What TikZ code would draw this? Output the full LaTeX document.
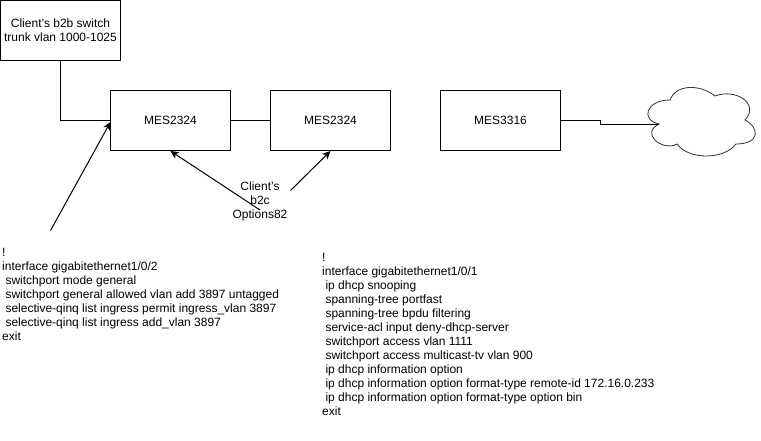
\documentclass[tikz,border=0pt]{standalone}
\usepackage{fontspec}
\setmainfont{Liberation Sans}
\usetikzlibrary{positioning,arrows.meta}
\tikzset{
	switchbox/.style={draw,line width=1pt,minimum width=120pt,minimum height=60pt,inner sep=0pt,font=\fontsize{12}{14}\selectfont,align=center},
	cfgtext/.style={anchor=north west,inner sep=0pt,align=left,font=\fontsize{12}{14}\selectfont},
	link/.style={line width=1pt},
	pointer/.style={line width=1pt,-{Stealth[length=8pt,width=7.5pt,inset=2pt]}}
}
\newcommand{\cfgind}{\hspace*{3.3pt}}
\begin{document}
\begin{tikzpicture}[x=1pt,y=-1pt]
		\useasboundingbox (0,0) rectangle (761,441);
		\node[switchbox] (b2b) at (60.5,30.5) {Client's b2b switch\\trunk vlan 1000-1025};
		\node[switchbox] (mesa) at (170.5,120.5) {MES2324};
		\node[switchbox] (mesb) at (330.5,120.5) {MES2324};
		\node[switchbox] (mesc) at (500.5,120.5) {MES3316};
		\draw[link] (b2b.south)|-(mesa.west);
		\draw[link] (mesa)--(mesb);
		\draw[link] (mesc.east)--(600.5,120.5)--(600.5,124.5)--(659.2,124.5);
		% cloud
		\draw[line width=.8pt,black!80] (670,100)
			.. controls (646,100) and (640,120) .. (659.2,124)
			.. controls (640,132.8) and (661.6,152) .. (677.2,144)
			.. controls (688,160) and (724,160) .. (736,144)
			.. controls (760,144) and (760,128) .. (745,120)
			.. controls (760,104) and (736,88) .. (715,96)
			.. controls (700,84) and (676,84) .. (670,100) -- cycle;
		\node[font=\fontsize{12}{14}\selectfont,align=center,inner sep=0pt] (b2c) at (260,201) {Client's\\b2c\\Options82};
		\coordinate (b2cleft) at (260,210);
		\coordinate (b2cright) at (290.5,190.5);
		\coordinate (cfgup) at (50.5,230.5);
		\draw[pointer] (b2cleft)--(mesa.south);
		\draw[pointer] (b2cright)--(mesb.south);
		\draw[pointer] (cfgup)--(110.5,122);
		\node[cfgtext] (cfgleft) at (2,248) {!\\interface gigabitethernet1/0/2\\
			\cfgind switchport mode general\\
			\cfgind switchport general allowed vlan add 3897 untagged\\
			\cfgind selective-qinq list ingress permit ingress\_vlan 3897\\
			\cfgind selective-qinq list ingress add\_vlan 3897\\
			exit};
		\node[cfgtext] (cfgright) at (322,253) {!\\interface gigabitethernet1/0/1\\
			\cfgind ip dhcp snooping\\
			\cfgind spanning-tree portfast\\
			\cfgind spanning-tree bpdu filtering\\
			\cfgind service-acl input deny-dhcp-server\\
			\cfgind switchport access vlan 1111\\
			\cfgind switchport access multicast-tv vlan 900\\
			\cfgind ip dhcp information option\\
			\cfgind ip dhcp information option format-type remote-id 172.16.0.233\\
			\cfgind ip dhcp information option format-type option bin\\
			exit};
		\end{tikzpicture}
\end{document}
